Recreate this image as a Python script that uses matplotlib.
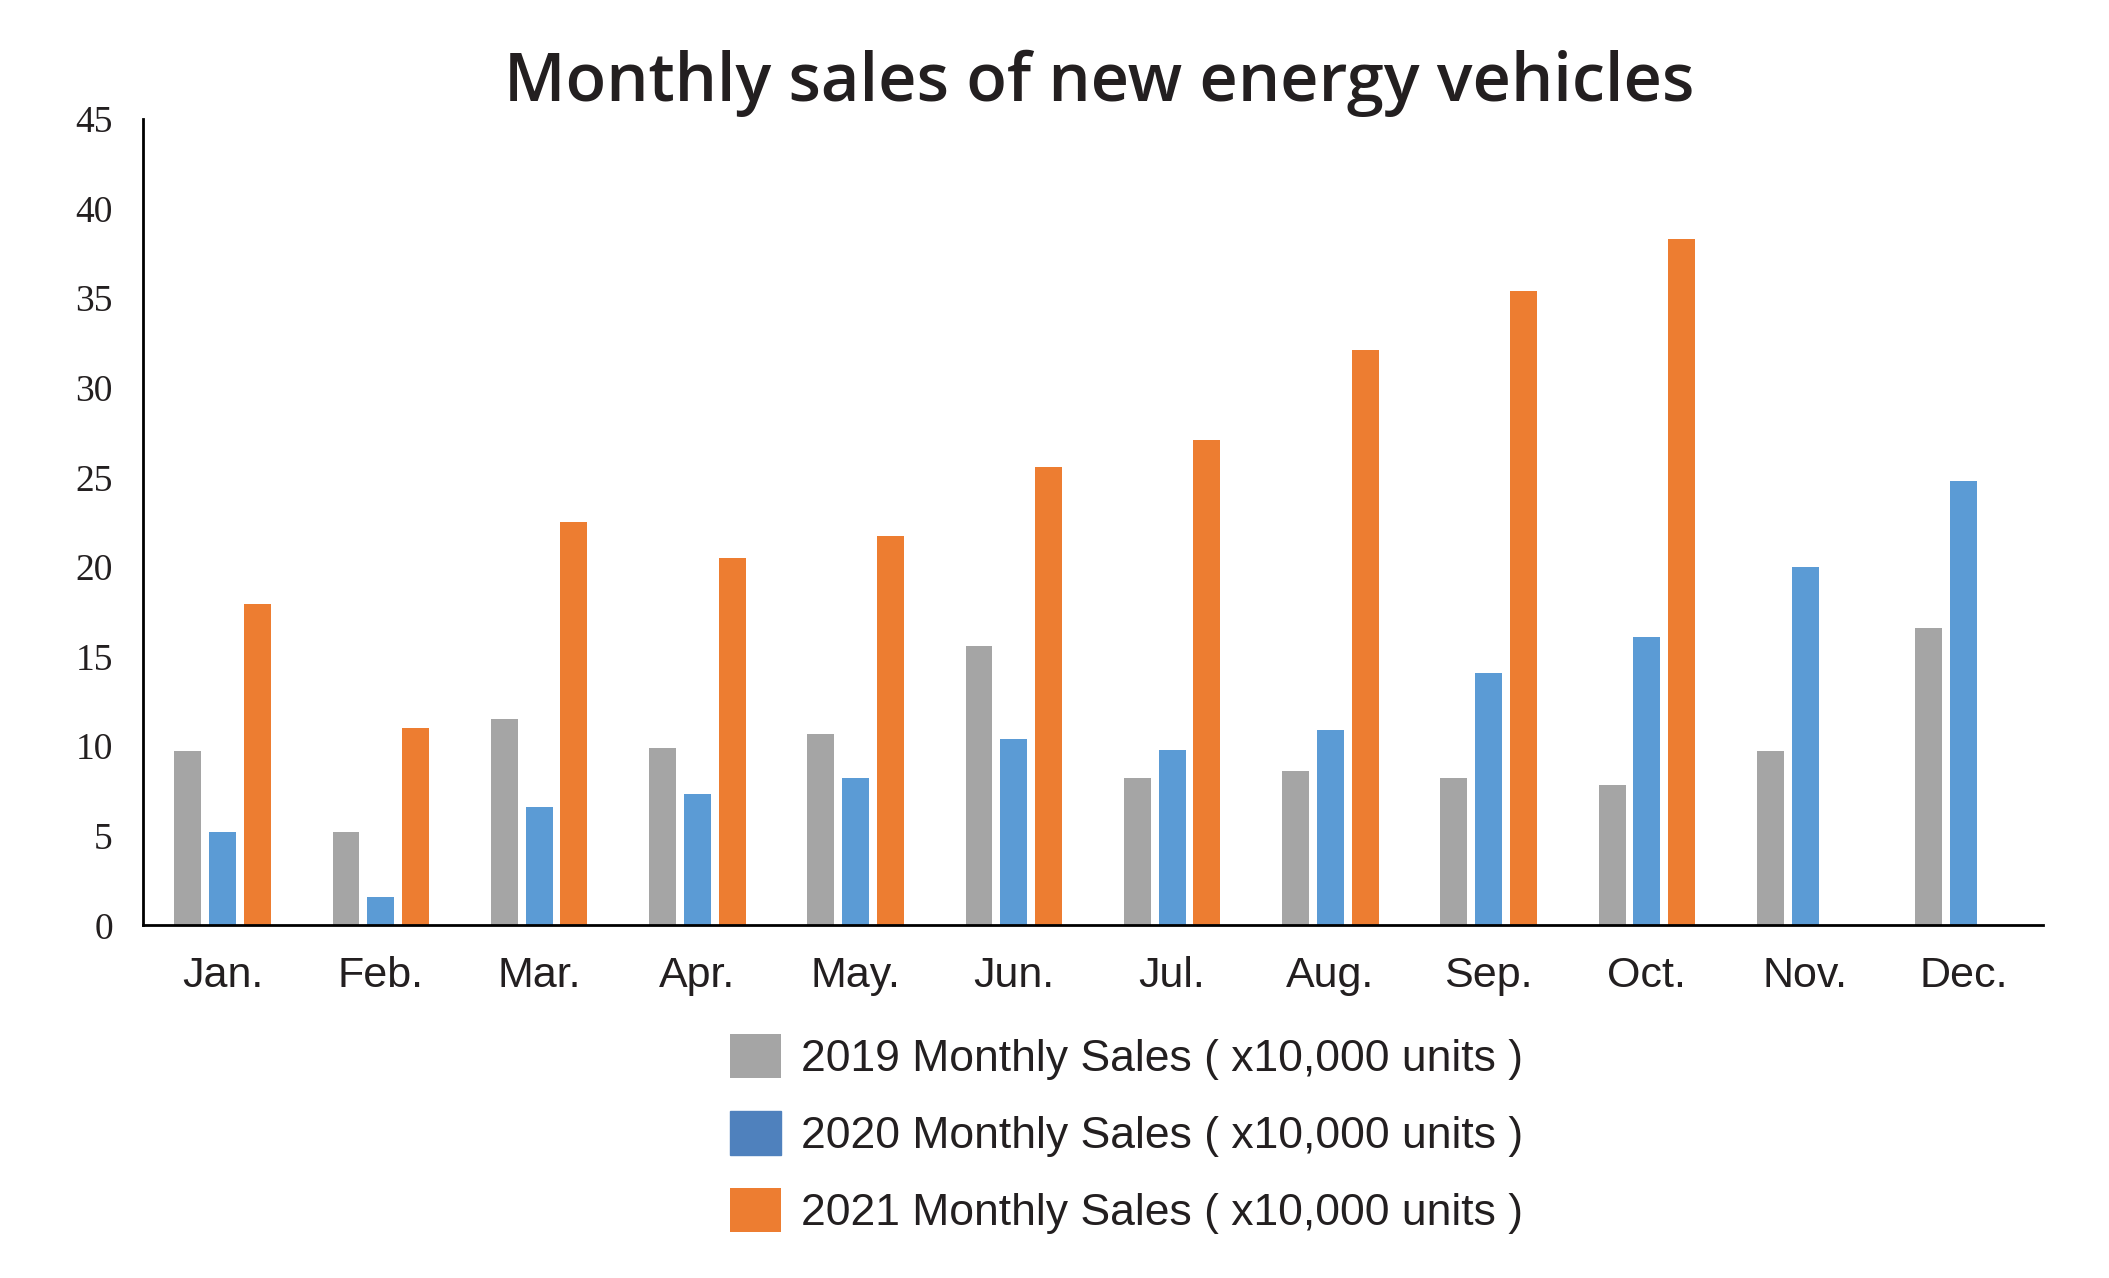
import numpy as np
import matplotlib
matplotlib.use("Agg")
import matplotlib.pyplot as plt

months = ["Jan.", "Feb.", "Mar.", "Apr.", "May.", "Jun.",
          "Jul.", "Aug.", "Sep.", "Oct.", "Nov.", "Dec."]

# sales in 10,000 units
sales_2019 = [9.7, 5.2, 11.5, 9.9, 10.7, 15.6, 8.2, 8.6, 8.2, 7.8, 9.7, 16.6]
sales_2020 = [5.2, 1.6, 6.6, 7.3, 8.2, 10.4, 9.8, 10.9, 14.1, 16.1, 20.0, 24.8]
sales_2021 = [17.9, 11.0, 22.5, 20.5, 21.7, 25.6, 27.1, 32.1, 35.4, 38.3, np.nan, np.nan]

labels = ["2019 Monthly Sales ( x10,000 units )",
          "2020 Monthly Sales ( x10,000 units )",
          "2021 Monthly Sales ( x10,000 units )"]

text_color = "#231f20"

fig = plt.figure(figsize=(21.09, 12.78), dpi=100)
ax = fig.add_axes([0.068, 0.276, 0.9005, 0.631])

x = np.arange(len(months))
w = 0.17
off = 0.22
b1 = ax.bar(x - off, sales_2019, w, color="#a5a5a5")
b2 = ax.bar(x, sales_2020, w, color="#5b9bd5")
b3 = ax.bar(x + off, sales_2021, w, color="#ed7d31")

ax.set_xlim(-0.5, 11.5)
ax.set_ylim(0, 45)
ax.set_yticks(range(0, 46, 5))
ax.set_xticks(x)
ax.set_xticklabels(months, fontsize=31, family="Liberation Sans", color=text_color)
for t in ax.get_yticklabels():
    t.set_fontsize(27)
    t.set_family("Liberation Serif")
    t.set_color(text_color)
ax.tick_params(axis="y", length=0, pad=22)
ax.tick_params(axis="x", length=0, pad=22)

ax.spines["top"].set_visible(False)
ax.spines["right"].set_visible(False)
ax.spines["left"].set_linewidth(2)
ax.spines["bottom"].set_linewidth(2)

fig.text(0.521, 0.935, "Monthly sales of new energy vehicles", ha="center", va="center",
         fontsize=48, family="Open Sans", fontweight="semibold", color=text_color)

handles = [b1, b2, b3]
leg = fig.legend(handles, labels, loc="upper left", bbox_to_anchor=(0.346, 0.191),
                 frameon=False, borderpad=0, borderaxespad=0,
                 handlelength=1.15, handleheight=1.15, handletextpad=0.45,
                 labelspacing=0.7,
                 prop={"family": "Liberation Sans", "size": 32})
for t in leg.get_texts():
    t.set_color(text_color)
leg.legend_handles[1].set_color("#4f81bd")

fig.savefig("out.png", dpi=100)
